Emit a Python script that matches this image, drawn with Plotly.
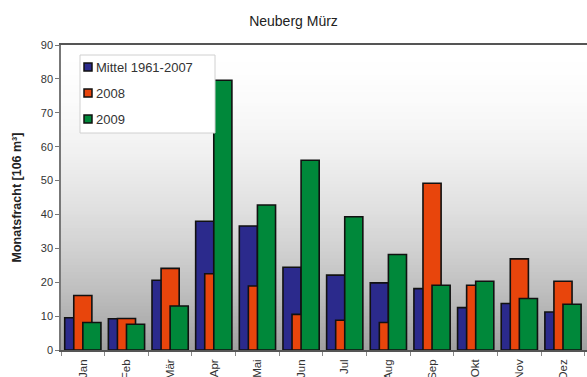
import plotly.graph_objects as go

# Monthly discharge volume, Neuberg / Mürz
months = ["Jan", "Feb", "Mär", "Apr", "Mai", "Jun", "Jul", "Aug", "Sep", "Okt", "Nov", "Dez"]
mittel_1961_2007 = [9.5, 9.2, 20.6, 38.0, 36.6, 24.4, 22.1, 19.8, 18.1, 12.5, 13.7, 11.2]
jahr_2008 = [16.1, 9.3, 24.1, 22.5, 18.9, 10.5, 8.8, 8.1, 49.2, 19.1, 26.9, 20.3]
jahr_2009 = [8.1, 7.6, 13.0, 79.6, 42.8, 56.0, 39.3, 28.2, 19.1, 20.3, 15.2, 13.5]
y_ticks = [0, 10, 20, 30, 40, 50, 60, 70, 80, 90]
series_names = ["Mittel 1961-2007", "2008", "2009"]
series_colors = ["#2b2a8c", "#e8450c", "#00883a"]
series_values = [mittel_1961_2007, jahr_2008, jahr_2009]

# plot geometry in pixels (used for the hand-drawn legend)
W, H = 587, 377
M_L, M_R, M_T, M_B = 61, 0, 45, 27
PW = W - M_L - M_R
PH = H - M_T - M_B
Y_MAX = 90


def px_x(px):
    return (px - M_L) / PW


def px_y(px):
    return (H - M_B - px) / PH * Y_MAX


# overlapping clustered bars (50 % overlap)
bar_w = 0.415
fig = go.Figure()
for i, (name, vals, col) in enumerate(zip(series_names, series_values, series_colors)):
    fig.add_trace(go.Bar(
        x=months, y=vals, name=name,
        width=bar_w, offset=-bar_w + i * bar_w / 2,
        marker=dict(color=col, line=dict(color="#111111", width=1.6)),
        showlegend=False,
    ))

# vertical grey-to-white gradient behind the plot area
# (strips overlap a little so no seams show between them)
steps = 90
step_h = Y_MAX / steps
shapes = []
for k in range(steps):
    t = (k + 0.5) / steps
    g = int(round(255 - (255 - 160) * (1 - t) ** 1.8))
    shapes.append(dict(
        type="rect", xref="paper", yref="y", x0=0, x1=1,
        y0=k * step_h, y1=min(Y_MAX, (k + 1.7) * step_h),
        fillcolor=f"rgb({g},{g},{g})", line=dict(width=0), layer="below",
    ))

# legend box
shapes.append(dict(
    type="rect", xref="paper", yref="y",
    x0=px_x(80), x1=px_x(215), y0=px_y(133), y1=px_y(55),
    fillcolor="white", line=dict(color="#d0d0d0", width=1), layer="above",
))
annotations = []
for i, (name, col) in enumerate(zip(series_names, series_colors)):
    cy = 67 + i * 26
    shapes.append(dict(
        type="rect", xref="paper", yref="y",
        x0=px_x(84), x1=px_x(92), y0=px_y(cy + 4), y1=px_y(cy - 4),
        fillcolor=col, line=dict(color="#111111", width=1.5), layer="above",
    ))
    annotations.append(dict(
        text=name, xref="paper", yref="y", x=px_x(94), y=px_y(cy),
        xanchor="left", yanchor="middle", showarrow=False,
        font=dict(size=13, color="#333333"),
    ))

fig.update_layout(
    width=W, height=H,
    margin=dict(l=M_L, r=M_R, t=M_T, b=M_B),
    barmode="overlay",
    paper_bgcolor="white", plot_bgcolor="white",
    font=dict(family="Liberation Sans, Arial, sans-serif", color="#333333"),
    title=dict(text="Neuberg Mürz", x=0.5, xref="container", xanchor="center",
               y=0.945, yanchor="middle", font=dict(size=14, color="#222222")),
    shapes=shapes,
    annotations=annotations,
    showlegend=False,
    xaxis=dict(
        type="category", range=[-0.5, 11.55], tickangle=-90,
        tickson="boundaries", ticks="outside", ticklen=4, tickcolor="#888888",
        showline=True, linecolor="#555555", linewidth=1.5, mirror=True,
        showgrid=False, automargin=False, tickfont=dict(size=11.5, color="#333333"),
        ticklabelstandoff=3,
    ),
    yaxis=dict(
        range=[0, Y_MAX], tickvals=y_ticks, ticks="outside", ticklen=4,
        tickcolor="#777777", showline=True, linecolor="#777777", linewidth=1.5,
        showgrid=False, zeroline=False, automargin=False,
        tickfont=dict(size=11, color="#333333"),
        title=dict(text="<b>Monatsfracht [106 m³]</b>", font=dict(size=12.5, color="#222222"),
                   standoff=16),
    ),
)

fig.write_html("out.html")
